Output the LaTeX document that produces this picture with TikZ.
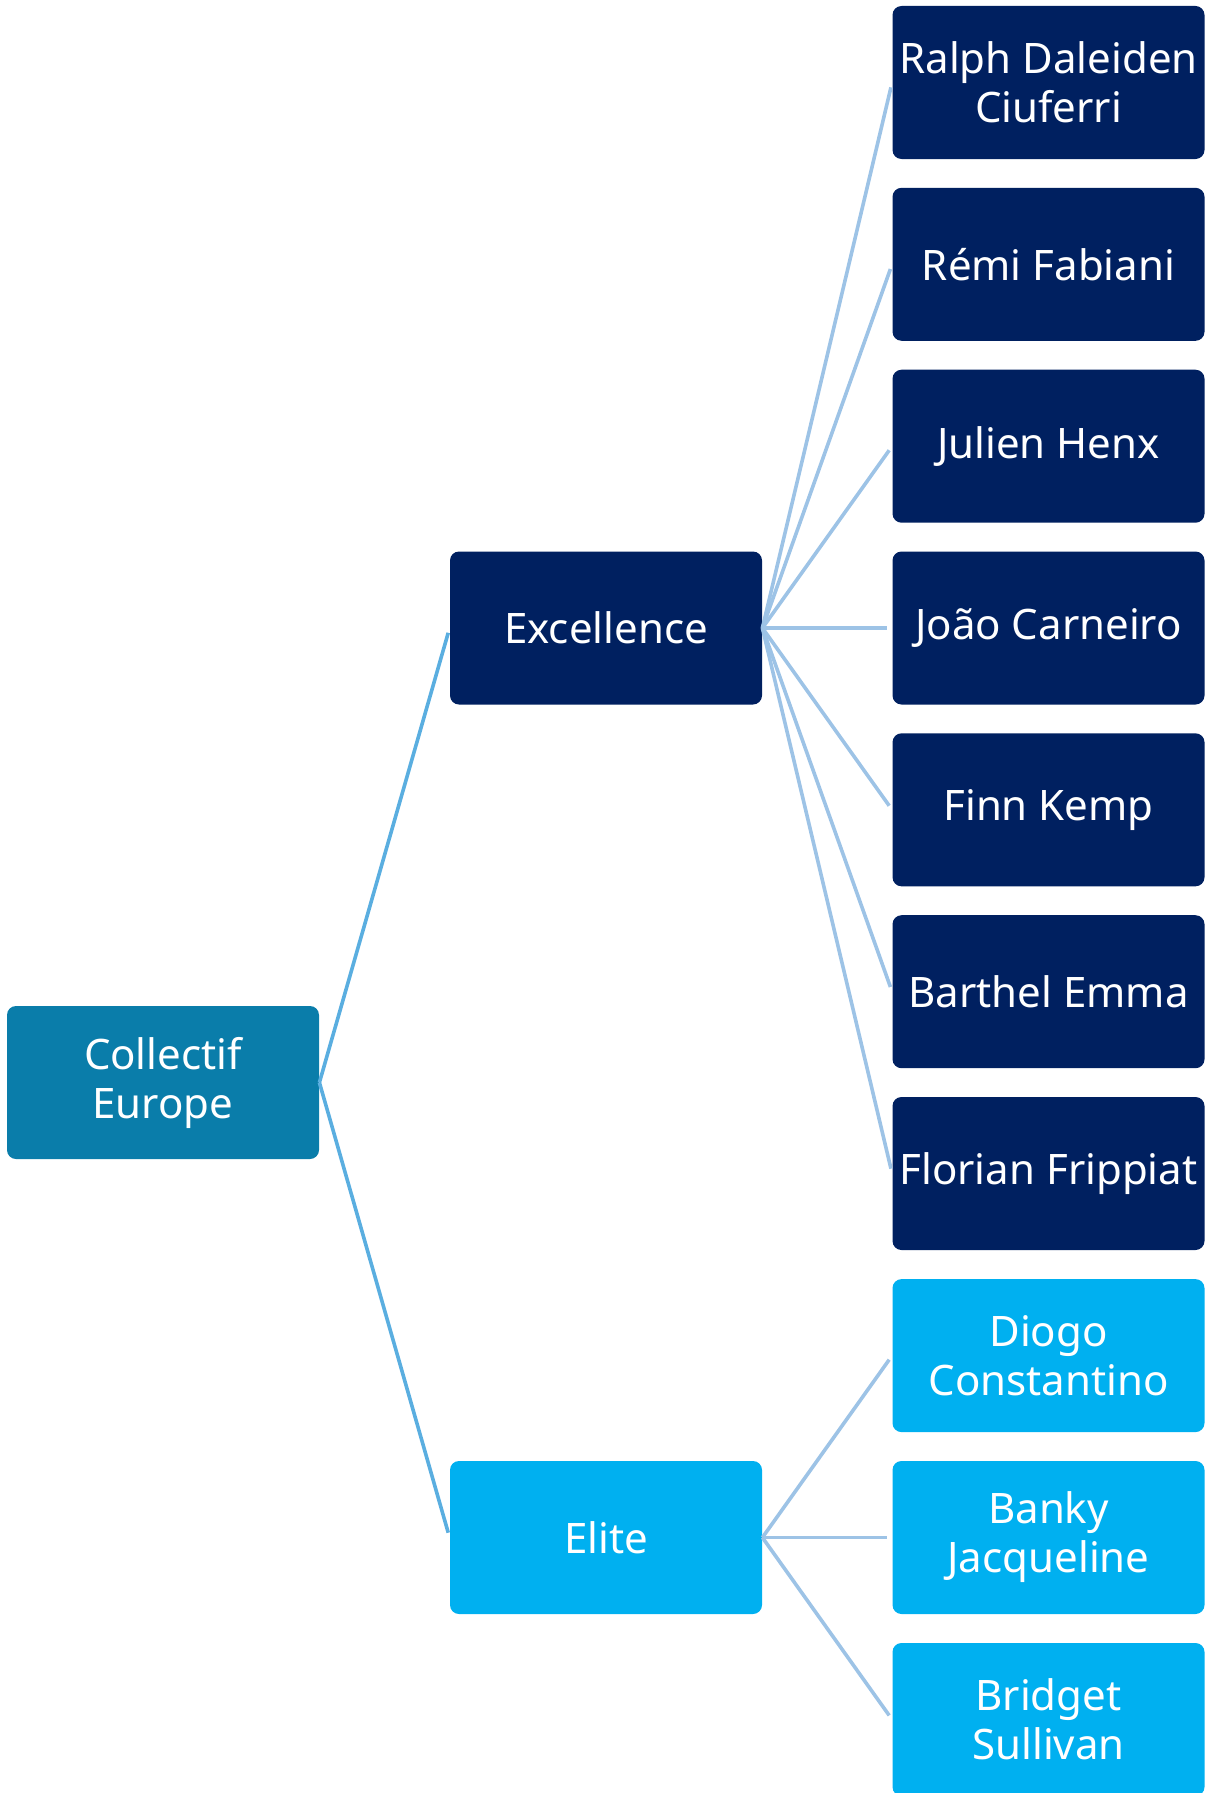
\documentclass[tikz,border=0pt]{standalone}
\usepackage{fontspec}
\setmainfont{Noto Sans}
\definecolor{navy}{HTML}{002060}
\definecolor{rootblue}{HTML}{0A7DAA}
\definecolor{eliteblue}{HTML}{00B0F0}
\definecolor{linkdark}{HTML}{5AAEE0}
\definecolor{linklight}{HTML}{9DC3E6}
\begin{document}
\begin{tikzpicture}[x=0.5pt,y=-0.5pt,
  box/.style={rectangle, rounded corners=4.5pt, minimum width=156pt, minimum height=76.5pt,
    inner sep=0pt, text=white, align=center, font=\fontsize{21}{24.5}\selectfont},
  rootbox/.style={box, fill=rootblue},
  navybox/.style={box, fill=navy},
  elitebox/.style={box, fill=eliteblue},
  link1/.style={draw=linkdark, line width=1.8pt, shorten >=2.5pt},
  link2/.style={draw=linklight, line width=1.8pt, shorten >=2.5pt}]
\useasboundingbox (0,0) rectangle (1218,1793);
\node[rootbox] (root) at (163,1082.5) {Collectif\\Europe};
\node[navybox] (exc) at (606,628) {Excellence};
\node[elitebox] (eli) at (606,1537.5) {Elite};
\node[navybox] (l0) at (1048.5,82.5) {Ralph Daleiden\\Ciuferri};
\node[navybox] (l1) at (1048.5,264.3) {Rémi Fabiani};
\node[navybox] (l2) at (1048.5,446.2) {Julien Henx};
\node[navybox] (l3) at (1048.5,628) {João Carneiro};
\node[navybox] (l4) at (1048.5,809.8) {Finn Kemp};
\node[navybox] (l5) at (1048.5,991.7) {Barthel Emma};
\node[navybox] (l6) at (1048.5,1173.5) {Florian Frippiat};
\node[elitebox] (l7) at (1048.5,1355.6) {Diogo\\Constantino};
\node[elitebox] (l8) at (1048.5,1537.5) {Banky\\Jacqueline};
\node[elitebox] (l9) at (1048.5,1719.5) {Bridget\\Sullivan};
\draw[link1] (root.east) -- (exc.west);
\draw[link1] (root.east) -- (eli.west);
\foreach \i in {0,...,6} { \draw[link2] (exc.east) -- (l\i.west); }
\foreach \i in {7,8,9} { \draw[link2] (eli.east) -- (l\i.west); }
\end{tikzpicture}
\end{document}
